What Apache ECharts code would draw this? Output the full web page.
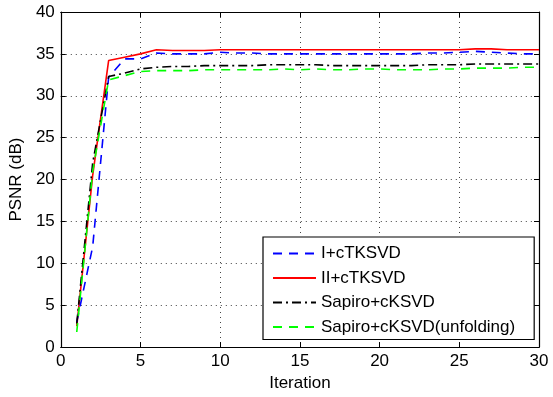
<!DOCTYPE html>
<html>
<head>
<meta charset="utf-8">
<script src="https://cdn.jsdelivr.net/npm/echarts@6/dist/echarts.min.js"></script>
<style>
  html, body { margin: 0; padding: 0; background: #fff; }
  #chart { width: 553px; height: 397px; }
</style>
</head>
<body>
<div id="chart"></div>
<script>
// PSNR (dB) per iteration for each dictionary-learning method
const iterations = [1,2,3,4,5,6,7,8,9,10,11,12,13,14,15,16,17,18,19,20,21,22,23,24,25,26,27,28,29,30];
const seriesNames = ['I+cTKSVD', 'II+cTKSVD', 'Sapiro+cKSVD', 'Sapiro+cKSVD(unfolding)'];
const psnrI = [3.0, 12.0, 32.2, 34.4, 34.4, 35.1, 35.0, 35.0, 35.0, 35.2, 35.1, 35.1, 35.0, 35.0, 35.0, 35.0, 35.0, 35.0, 35.0, 35.0, 35.0, 35.0, 35.1, 35.1, 35.2, 35.3, 35.2, 35.1, 35.0, 35.0];
const psnrII = [2.5, 20.5, 34.2, 34.6, 35.0, 35.5, 35.4, 35.4, 35.4, 35.5, 35.5, 35.5, 35.5, 35.5, 35.5, 35.5, 35.5, 35.5, 35.5, 35.5, 35.5, 35.5, 35.5, 35.5, 35.5, 35.6, 35.6, 35.5, 35.5, 35.5];
const psnrSapiro = [2.8, 22.0, 32.3, 32.7, 33.2, 33.4, 33.5, 33.5, 33.6, 33.6, 33.6, 33.6, 33.7, 33.7, 33.7, 33.7, 33.6, 33.6, 33.6, 33.6, 33.6, 33.6, 33.7, 33.7, 33.7, 33.8, 33.8, 33.8, 33.8, 33.8];
const psnrUnfold = [1.8, 21.0, 31.9, 32.4, 32.9, 33.0, 33.0, 33.0, 33.1, 33.1, 33.1, 33.1, 33.1, 33.2, 33.1, 33.2, 33.1, 33.1, 33.2, 33.2, 33.1, 33.1, 33.1, 33.2, 33.2, 33.3, 33.3, 33.3, 33.4, 33.4];
const xTicks = [0, 5, 10, 15, 20, 25, 30];
const yTicks = [0, 5, 10, 15, 20, 25, 30, 35, 40];

const FONT = 'Liberation Sans, Arial, sans-serif';
const pairs = vals => iterations.map((x, i) => [x, vals[i]]);

const styles = [
  { color: '#0000ff', type: [9, 7] },
  { color: '#ff0000', type: 'solid' },
  { color: '#000000', type: [9, 4, 2, 4] },
  { color: '#00ff00', type: [9, 7] }
];
const allValues = [psnrI, psnrII, psnrSapiro, psnrUnfold];

const gridLine = { show: true, lineStyle: { color: '#444', type: [1, 4], width: 1 } };
const axisCommon = {
  type: 'value',
  axisLine: { show: true, onZero: false, lineStyle: { color: '#000', width: 1.2 } },
  axisTick: { show: true, inside: true, length: 5, lineStyle: { color: '#000' } }
};

const chart = echarts.init(document.getElementById('chart'), null, { renderer: 'canvas' });
chart.setOption({
  animation: false,
  backgroundColor: '#fff',
  grid: { left: 60, right: 14, top: 12, bottom: 45, containLabel: false },
  xAxis: [
    Object.assign({}, axisCommon, {
      position: 'bottom', min: xTicks[0], max: xTicks[xTicks.length - 1], interval: 5,
      name: 'Iteration', nameLocation: 'middle', nameGap: 25,
      nameTextStyle: { fontFamily: FONT, fontSize: 17, color: '#000' },
      axisLabel: { fontFamily: FONT, fontSize: 17, color: '#000', margin: 6 },
      splitLine: gridLine
    }),
    Object.assign({}, axisCommon, {
      position: 'top', min: xTicks[0], max: xTicks[xTicks.length - 1], interval: 5,
      axisLabel: { show: false }, splitLine: { show: false }
    })
  ],
  yAxis: [
    Object.assign({}, axisCommon, {
      position: 'left', min: yTicks[0], max: yTicks[yTicks.length - 1], interval: 5,
      name: 'PSNR (dB)', nameLocation: 'middle', nameGap: 34,
      nameTextStyle: { fontFamily: FONT, fontSize: 17, color: '#000' },
      axisLabel: { fontFamily: FONT, fontSize: 17, color: '#000', margin: 6 },
      splitLine: gridLine
    }),
    Object.assign({}, axisCommon, {
      position: 'right', min: yTicks[0], max: yTicks[yTicks.length - 1], interval: 5,
      axisLabel: { show: false }, splitLine: { show: false }
    })
  ],
  legend: {
    orient: 'vertical',
    left: 263, top: 237,
    padding: [8, 19, 4, 9],
    itemGap: 7.5,
    itemWidth: 43, itemHeight: 14,
    backgroundColor: '#fff',
    borderColor: '#000', borderWidth: 1.2,
    itemStyle: { opacity: 0, color: 'transparent', borderWidth: 0 },
    textStyle: { fontFamily: FONT, fontSize: 17, color: '#000' },
    data: seriesNames
  },
  series: seriesNames.map((name, k) => ({
    name: name,
    type: 'line',
    data: pairs(allValues[k]),
    showSymbol: false,
    symbol: 'none',
    lineStyle: { color: styles[k].color, type: styles[k].type, width: 1.6 },
    itemStyle: { color: styles[k].color },
    z: [3, 2, 4, 5][k]
  }))
});
</script>
</body>
</html>
